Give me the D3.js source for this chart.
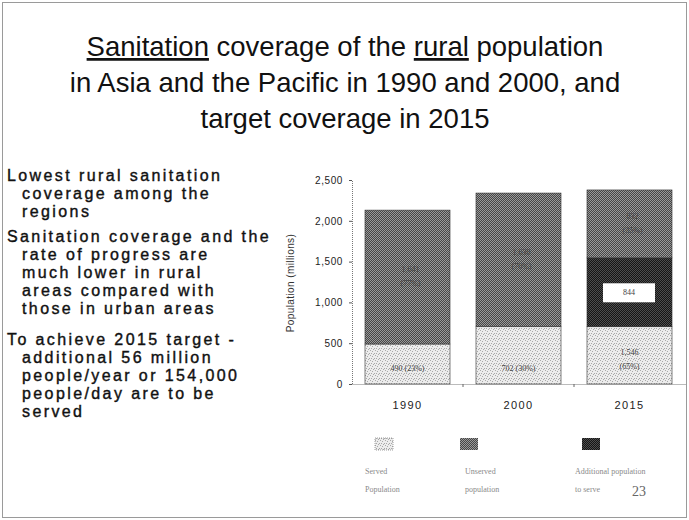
<!DOCTYPE html>
<html>
<head>
<meta charset="utf-8">
<script src="https://cdn.jsdelivr.net/npm/d3@7"></script>
<style>
  html, body { margin: 0; padding: 0; background: #fff; }
  svg { display: block; }
</style>
</head>
<body>
<svg id="chart" width="689" height="520"></svg>
<script>
// Rural sanitation, Asia and the Pacific (millions of people)
const years = ["1990", "2000", "2015"];
const served = [490, 702, 702];
const additional = [0, 0, 844];
const unserved = [1641, 1638, 832];
const yTicks = [0, 500, 1000, 1500, 2000, 2500];

const titleLines = [
  [{t: "Sanitation", u: true}, {t: " coverage of the "}, {t: "rural", u: true}, {t: " population"}],
  [{t: "in Asia and the Pacific in 1990 and 2000, and"}],
  [{t: "target coverage in 2015"}]
];

// gap = extra space above a line that starts a new paragraph
const notes = [
  {t: "Lowest rural sanitation", indent: false},
  {t: "coverage among the", indent: true},
  {t: "regions", indent: true},
  {t: "Sanitation coverage and the", indent: false, gap: 6},
  {t: "rate of progress  are", indent: true},
  {t: "much lower in rural", indent: true},
  {t: "areas compared with", indent: true},
  {t: "those in urban areas", indent: true},
  {t: "To achieve 2015 target -", indent: false, gap: 12},
  {t: "additional 56 million", indent: true},
  {t: "people/year or 154,000", indent: true},
  {t: "people/day are to be", indent: true},
  {t: "served", indent: true}
];

const legendItems = [
  {key: "served", lines: ["Served", "Population"]},
  {key: "unserved", lines: ["Unserved", "population"]},
  {key: "additional", lines: ["Additional population", "to serve"]}
];

const svg = d3.select("#chart");

// slide frame
svg.append("rect").attr("x", 2.5).attr("y", 2.5).attr("width", 684).attr("height", 515)
  .attr("fill", "none").attr("stroke", "#9a9a9a").attr("stroke-width", 1);

// textures for the three segments
const defs = svg.append("defs");
function checker(id, a, b, size) {
  const p = defs.append("pattern").attr("id", id).attr("patternUnits", "userSpaceOnUse")
    .attr("width", size * 2).attr("height", size * 2);
  p.append("rect").attr("width", size * 2).attr("height", size * 2).attr("fill", a);
  p.append("rect").attr("width", size).attr("height", size).attr("fill", b);
  p.append("rect").attr("x", size).attr("y", size).attr("width", size).attr("height", size).attr("fill", b);
}
checker("pat-unserved", "#464646", "#9a9a9a", 1);
checker("pat-additional", "#161616", "#4e4e4e", 1);
{
  const p = defs.append("pattern").attr("id", "pat-served").attr("patternUnits", "userSpaceOnUse")
    .attr("width", 5).attr("height", 5);
  p.append("rect").attr("width", 5).attr("height", 5).attr("fill", "#ececec");
  [[0, 0], [2, 1], [4, 3], [1, 3], [3, 4]].forEach(([x, y]) =>
    p.append("rect").attr("x", x).attr("y", y).attr("width", 1).attr("height", 1).attr("fill", "#a8a8a8"));
}
const fills = {served: "url(#pat-served)", unserved: "url(#pat-unserved)", additional: "url(#pat-additional)"};

// title
const title = svg.append("text").attr("text-anchor", "middle")
  .attr("font-family", "Liberation Sans, Arial, sans-serif").attr("font-size", 27.5).attr("fill", "#111");
titleLines.forEach((parts, i) => {
  const line = title.append("tspan").attr("x", 345).attr("y", 56 + i * 36);
  parts.forEach(p => {
    const s = line.append("tspan").text(p.t);
    if (p.u) s.attr("text-decoration", "underline");
  });
});

// notes on the left
let ny = 181;
const noteG = svg.append("g").attr("font-family", "Liberation Sans, Arial, sans-serif")
  .attr("font-size", 16).attr("fill", "#111").attr("stroke", "#111").attr("stroke-width", 0.4)
  .attr("letter-spacing", 2.4);
notes.forEach((n, i) => {
  if (i > 0) ny += 18.2 + (n.gap || 0);
  noteG.append("text").attr("x", n.indent ? 22 : 7).attr("y", ny).text(n.t);
});

// scales
const x = d3.scaleBand().domain(years).range([352, 685]).paddingInner(0.234).paddingOuter(0.117);
const y = d3.scaleLinear().domain([0, 2500]).range([384, 180]);

const rows = years.map((yr, i) => ({year: yr, served: served[i], additional: additional[i], unserved: unserved[i]}));
const stack = d3.stack().keys(["served", "additional", "unserved"]);
const series = stack(rows);

// bars
const barG = svg.append("g");
series.forEach(s => {
  barG.selectAll(null).data(s).join("rect")
    .attr("x", d => x(d.data.year))
    .attr("y", d => y(d[1]))
    .attr("width", x.bandwidth())
    .attr("height", d => y(d[0]) - y(d[1]))
    .attr("fill", fills[s.key])
    .attr("stroke", "#333").attr("stroke-width", 0.6);
});

// axes
const yAxis = d3.axisLeft(y).tickValues(yTicks).tickFormat(d3.format(",")).tickSize(3).tickPadding(6);
const yg = svg.append("g").attr("transform", "translate(352,0)").call(yAxis);
yg.select(".domain").attr("stroke", "#777").attr("stroke-dasharray", "1,1");
yg.selectAll(".tick line").attr("stroke", "#555");
yg.selectAll("text").attr("font-family", "Liberation Sans, Arial, sans-serif")
  .attr("font-size", 10).attr("fill", "#222").attr("letter-spacing", 0.6);

const xg = svg.append("g").attr("transform", "translate(0,384)")
  .call(d3.axisBottom(x).tickSize(0).tickPadding(17));
xg.select(".domain").attr("stroke", "#777").attr("stroke-dasharray", "1,1");
xg.selectAll("text").attr("font-family", "Liberation Sans, Arial, sans-serif")
  .attr("font-size", 11).attr("fill", "#222").attr("letter-spacing", 1.4);
// small separators between categories
const sepX = years.slice(1).map(yr => x(yr) - x.step() * x.paddingInner() / 2);
svg.selectAll(null).data(sepX).join("line")
  .attr("x1", d => d).attr("x2", d => d).attr("y1", 384).attr("y2", 387).attr("stroke", "#666");

svg.append("text").attr("transform", "translate(294,283) rotate(-90)").attr("text-anchor", "middle")
  .attr("font-family", "Liberation Sans, Arial, sans-serif").attr("font-size", 10).attr("fill", "#333")
  .attr("letter-spacing", 0.4).text("Population (millions)");

// value labels inside the bars
const fmt = d3.format(",");
const boxG = svg.append("g");
const lab = svg.append("g").attr("font-family", "Liberation Serif, Times New Roman, serif")
  .attr("font-size", 8).attr("fill", "#444").attr("text-anchor", "middle");
rows.forEach(r => {
  const total = r.served + r.additional + r.unserved;
  const cx = x(r.year) + x.bandwidth() / 2;
  const servedAll = r.served + r.additional;
  const sp = Math.round(servedAll / total * 100);
  const up = Math.round(r.unserved / total * 100);
  // served
  if (r.additional > 0) {
    lab.append("text").attr("x", cx).attr("y", y(servedAll) + 97).text(fmt(servedAll));
    lab.append("text").attr("x", cx).attr("y", y(servedAll) + 111).text(`(${sp}%)`);
  } else {
    lab.append("text").attr("x", cx).attr("y", y(0) - 13).text(`${fmt(servedAll)} (${sp}%)`);
  }
  // unserved
  const uMid = y(servedAll + r.unserved / 2);
  lab.append("text").attr("x", cx + 3).attr("y", uMid - 5).text(fmt(r.unserved));
  lab.append("text").attr("x", cx + 3).attr("y", uMid + 9).text(`(${up}%)`);
  // additional, on a white box
  if (r.additional > 0) {
    const aMid = y(r.served + r.additional / 2);
    boxG.append("rect").attr("x", x(r.year) + 16).attr("y", aMid - 9).attr("width", 52).attr("height", 19)
      .attr("fill", "#fff");
    lab.append("text").attr("x", x(r.year) + 42).attr("y", aMid + 3).text(fmt(r.additional));
  }
});

// legend
const legX = [375, 460, 582];
const legTx = [365, 465, 575];
legendItems.forEach((it, i) => {
  svg.append("rect").attr("x", legX[i]).attr("y", 438).attr("width", 18).attr("height", 12)
    .attr("fill", fills[it.key]).attr("stroke", it.key === "served" ? "#888" : "none")
    .attr("stroke-dasharray", "1,1").attr("stroke-width", 0.8);
  it.lines.forEach((l, j) => {
    svg.append("text").attr("x", legTx[i]).attr("y", 474 + j * 18)
      .attr("font-family", "Liberation Serif, Times New Roman, serif").attr("font-size", 8)
      .attr("fill", "#8a8a8a").text(l);
  });
});
svg.append("text").attr("x", 632).attr("y", 496).attr("font-family", "Liberation Serif, Times New Roman, serif")
  .attr("font-size", 14).attr("fill", "#666").text("23");
</script>
</body>
</html>
